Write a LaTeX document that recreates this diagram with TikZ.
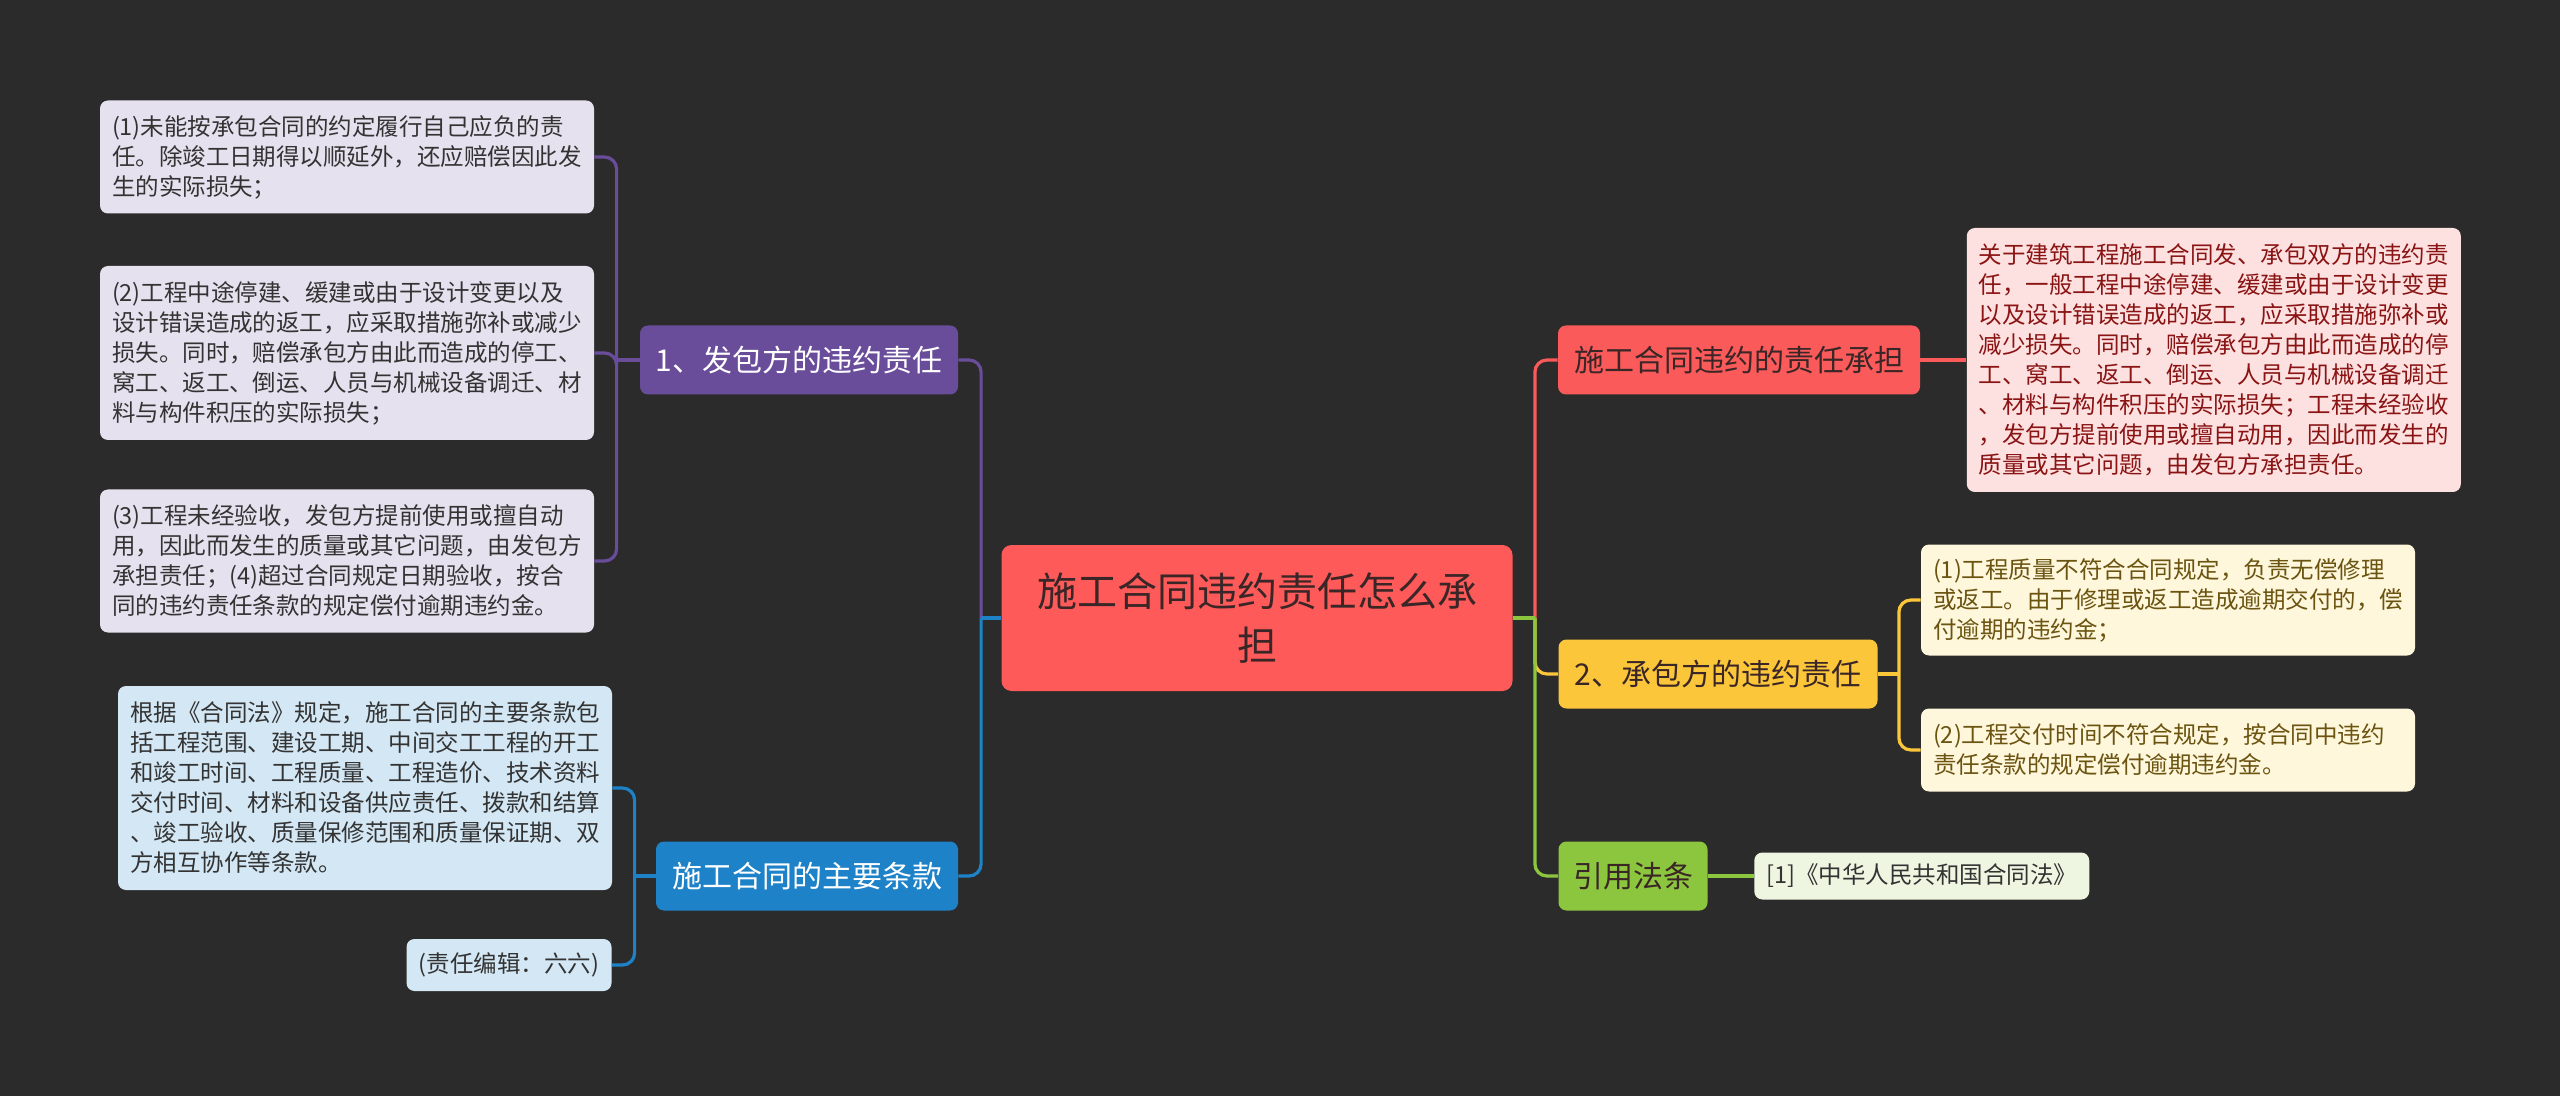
\documentclass[tikz,border=0pt]{standalone}
\usepackage{fontspec}
\setmainfont{Noto Sans CJK SC}
\usepackage{tikz}
\usetikzlibrary{positioning}
\definecolor{bg}{HTML}{2B2B2B}
\definecolor{rootc}{HTML}{FF5A5A}
\definecolor{ink}{HTML}{3A2626}
\definecolor{leafink}{HTML}{333333}
\definecolor{purp}{HTML}{6A4D9A}
\definecolor{purpsoft}{HTML}{E6E1EE}
\definecolor{blu}{HTML}{1D82C8}
\definecolor{blusoft}{HTML}{D3E7F4}
\definecolor{redb}{HTML}{FA5A5A}
\definecolor{redsoft}{HTML}{FDE1E1}
\definecolor{redink}{HTML}{8A1414}
\definecolor{yel}{HTML}{FCC63B}
\definecolor{yelsoft}{HTML}{FEF7DC}
\definecolor{yelink}{HTML}{6B5310}
\definecolor{grn}{HTML}{8CC63F}
\definecolor{grnsoft}{HTML}{EEF6E1}
\newcommand\leaffont{\fontsize{11.75}{15}\selectfont}
\newcommand\branchfont{\fontsize{15}{18}\selectfont}

\begin{document}
\begin{tikzpicture}[x=0.5pt,y=-0.5pt,
  leaf/.style={rounded corners=4pt,inner xsep=6pt,inner ysep=0pt,align=left,font=\leaffont,text=leafink},
  wide/.style={leaf,text width=235pt},
  branch/.style={rounded corners=4pt,inner xsep=0pt,minimum height=34.5pt,align=center,font=\branchfont},
  link/.style={line width=1.6pt,rounded corners=6pt}]
  \fill[bg] (0,0) rectangle (2560,1096);
  \useasboundingbox (0,0) rectangle (2560,1096);

  \node (root) [fill=rootc,text=ink,rounded corners=5pt,minimum width=255.5pt,minimum height=73pt,align=center,
    font=\fontsize{20}{27}\selectfont] at (1257,618) {施工合同违约责任怎么承\\担};

  % left side
  \node (B1) [branch,fill=purp,text=white,minimum width=159pt] at (799,360) {1、发包方的违约责任};
  \node (B2) [branch,fill=blu,text=white,minimum width=151pt] at (807,876) {施工合同的主要条款};
  \node (L1) [wide,fill=purpsoft,minimum height=56.5pt] at (347,157)
    {(1)未能按承包合同的约定履行自己应负的责\\任。除竣工日期得以顺延外，还应赔偿因此发\\生的实际损失；};
  \node (L2) [wide,fill=purpsoft,minimum height=87pt] at (347,353)
    {(2)工程中途停建、缓建或由于设计变更以及\\设计错误造成的返工，应采取措施弥补或减少\\损失。同时，赔偿承包方由此而造成的停工、\\窝工、返工、倒运、人员与机械设备调迁、材\\料与构件积压的实际损失；};
  \node (L3) [wide,fill=purpsoft,minimum height=71.5pt] at (347,561)
    {(3)工程未经验收，发包方提前使用或擅自动\\用，因此而发生的质量或其它问题，由发包方\\承担责任；(4)超过合同规定日期验收，按合\\同的违约责任条款的规定偿付逾期违约金。};
  \node (L4) [wide,fill=blusoft,minimum height=102pt] at (365,788)
    {根据《合同法》规定，施工合同的主要条款包\\括工程范围、建设工期、中间交工工程的开工\\和竣工时间、工程质量、工程造价、技术资料\\交付时间、材料和设备供应责任、拨款和结算\\、竣工验收、质量保修范围和质量保证期、双\\方相互协作等条款。};
  \node (L5) [leaf,fill=blusoft,minimum width=102.5pt,minimum height=26pt] at (509,965) {(责任编辑：六六)};

  % right side
  \node (R1) [branch,fill=redb,text=ink,minimum width=181pt] at (1739,360) {施工合同违约的责任承担};
  \node (R2) [branch,fill=yel,text=ink,minimum width=159.5pt] at (1718,674) {2、承包方的违约责任};
  \node (R3) [branch,fill=grn,text=ink,minimum width=74.5pt] at (1633,876) {引用法条};
  \node (RL) [wide,fill=redsoft,text=redink,minimum height=132pt,right=23pt of R1]
    {关于建筑工程施工合同发、承包双方的违约责\\任，一般工程中途停建、缓建或由于设计变更\\以及设计错误造成的返工，应采取措施弥补或\\减少损失。同时，赔偿承包方由此而造成的停\\工、窝工、返工、倒运、人员与机械设备调迁\\、材料与构件积压的实际损失；工程未经验收\\，发包方提前使用或擅自动用，因此而发生的\\质量或其它问题，由发包方承担责任。};
  \node (Y1) [wide,fill=yelsoft,text=yelink,minimum height=55.5pt] at (2168,600)
    {(1)工程质量不符合合同规定，负责无偿修理\\或返工。由于修理或返工造成逾期交付的，偿\\付逾期的违约金；};
  \node (Y2) [wide,fill=yelsoft,text=yelink,minimum height=41.5pt] at (2168,750)
    {(2)工程交付时间不符合规定，按合同中违约\\责任条款的规定偿付逾期违约金。};
  \node (G1) [leaf,fill=grnsoft,text=leafink,minimum width=166.5pt,minimum height=23.5pt,right=23pt of R3]
    {[1]《中华人民共和国合同法》};

  % connectors
  \coordinate (lj) at ([xshift=-10pt]root.west);
  \coordinate (rj) at ([xshift=11pt]root.east);
  \coordinate (pj) at ([xshift=-11.5pt]B1.west);
  \coordinate (bj) at ([xshift=-10.5pt]B2.west);
  \coordinate (yj) at ([xshift=10.5pt]R2.east);
  \draw[link,purp] (lj) |- (B1.east);
  \draw[link,blu] (lj) |- (B2.east);
  \draw[link,blu] (root.west) -- (lj);
  \draw[link,purp] (B1.west) -- (pj);
  \foreach \n in {L1,L2,L3} \draw[link,purp] (pj) |- (\n.east);
  \draw[link,blu] (B2.west) -- (bj);
  \foreach \n in {L4,L5} \draw[link,blu] (bj) |- (\n.east);
  \draw[link,redb] (rj) |- (R1.west);
  \draw[link,yel] (rj) |- (R2.west);
  \draw[link,grn] (rj) |- (R3.west);
  \draw[link,grn] (root.east) -- (rj);
  \draw[link,redb] (R1.east) -- (RL.west);
  \draw[link,yel] (R2.east) -- (yj);
  \foreach \n in {Y1,Y2} \draw[link,yel] (yj) |- (\n.west);
  \draw[link,grn] (R3.east) -- (G1.west);
\end{tikzpicture}
\end{document}
